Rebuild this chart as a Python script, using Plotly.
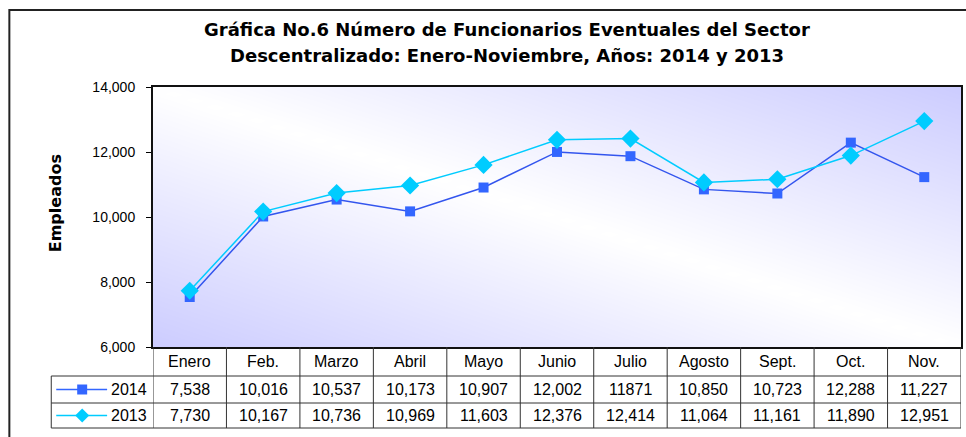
import numpy as np
import plotly.graph_objects as go

months = ["Enero", "Feb.", "Marzo", "Abril", "Mayo", "Junio", "Julio", "Agosto", "Sept.", "Oct.", "Nov."]
vals_2014 = [7538, 10016, 10537, 10173, 10907, 12002, 11871, 10850, 10723, 12288, 11227]
vals_2013 = [7730, 10167, 10736, 10969, 11603, 12376, 12414, 11064, 11161, 11890, 12951]
labels_2014 = ["7,538", "10,016", "10,537", "10,173", "10,907", "12,002", "11871", "10,850", "10,723", "12,288", "11,227"]
labels_2013 = ["7,730", "10,167", "10,736", "10,969", "11,603", "12,376", "12,414", "11,064", "11,161", "11,890", "12,951"]
series_names = ["2014", "2013"]
y_ticks = [6000, 8000, 10000, 12000, 14000]
title_lines = ["Gráfica No.6 Número de Funcionarios Eventuales del Sector",
               "Descentralizado: Enero-Noviembre, Años: 2014 y 2013"]
y_title = "Empleados"

W, H = 966, 437
L, R, T, B = 153, 963, 87, 347  # plot area in px
FONT = "Liberation Sans, Arial, sans-serif"
BOLD_FONT = "DejaVu Sans, Liberation Sans, sans-serif"
C2014 = "#3366ff"
C2013 = "#00ccff"


def px(xp, yp):
    return (xp - L) / (R - L), (B - yp) / (B - T)


fig = go.Figure()

# gradient background (diagonal, white band through the middle)
n = 40
gx = np.linspace(-0.5, len(months) - 0.5, n)
gy = np.linspace(y_ticks[0], y_ticks[-1], n)
u = np.linspace(0, 1, n)
U, V = np.meshgrid(u, u)
Z = np.abs(U + V - 1)
fig.add_trace(go.Heatmap(x=gx, y=gy, z=Z, zsmooth="best", showscale=False, hoverinfo="skip",
                         colorscale=[[0, "#ffffff"], [1, "#ccccff"]], zmin=0, zmax=1))

xi = list(range(len(months)))
fig.add_trace(go.Scatter(x=xi, y=vals_2014, mode="lines+markers", name=series_names[0],
                         line=dict(color="#3355ee", width=1.5),
                         marker=dict(symbol="square", size=10, color=C2014)))
fig.add_trace(go.Scatter(x=xi, y=vals_2013, mode="lines+markers", name=series_names[1],
                         line=dict(color=C2013, width=1.5),
                         marker=dict(symbol="diamond", size=14, color=C2013)))

shapes = []
ann = []

# outer frame
x0, y1 = px(9, 10)
x1, y0 = px(975, 450)
shapes.append(dict(type="rect", xref="paper", yref="paper", x0=x0, y0=y0, x1=x1, y1=y1,
                   line=dict(color="#222222", width=2), layer="below"))

# table geometry
rows_px = [B, 376, 403, 428]
legend_left = 51
ry = [px(0, r)[1] for r in rows_px]
xl = px(legend_left, 0)[0]
tl = dict(color="#333333", width=1)
for k in (1, 2, 3):
    shapes.append(dict(type="line", xref="paper", yref="paper", x0=xl, x1=1, y0=ry[k], y1=ry[k], line=tl))
for i in range(len(months) + 1):
    shapes.append(dict(type="line", xref="x", yref="paper", x0=i - 0.5, x1=i - 0.5, y0=ry[0], y1=ry[3], line=tl))
shapes.append(dict(type="line", xref="paper", yref="paper", x0=xl, x1=xl, y0=ry[1], y1=ry[3], line=tl))

cell_font = dict(family=FONT, size=16, color="black")
for i, m in enumerate(months):
    ann.append(dict(x=i, xref="x", y=(ry[0] + ry[1]) / 2, yref="paper", text=m, showarrow=False,
                    font=cell_font, xanchor="center", yanchor="middle"))
    ann.append(dict(x=i, xref="x", y=(ry[1] + ry[2]) / 2, yref="paper", text=labels_2014[i], showarrow=False,
                    font=cell_font, xanchor="center", yanchor="middle"))
    ann.append(dict(x=i, xref="x", y=(ry[2] + ry[3]) / 2, yref="paper", text=labels_2013[i], showarrow=False,
                    font=cell_font, xanchor="center", yanchor="middle"))

# legend keys inside table
for k, (name, col, sym) in enumerate([(series_names[0], C2014, "square"), (series_names[1], C2013, "diamond")]):
    yc_px = (rows_px[k + 1] + rows_px[k + 2]) / 2
    a0, yc = px(56, yc_px)
    a1, _ = px(107, yc_px)
    shapes.append(dict(type="line", xref="paper", yref="paper", x0=a0, x1=a1, y0=yc, y1=yc,
                       line=dict(color=col, width=1.5)))
    if sym == "square":
        sx0, sy0 = px(77, yc_px + 5)
        sx1, sy1 = px(87, yc_px - 5)
        shapes.append(dict(type="rect", xref="paper", yref="paper", x0=sx0, x1=sx1, y0=sy0, y1=sy1,
                           fillcolor=col, line=dict(width=0)))
    else:
        pts = [px(82, yc_px - 7), px(89, yc_px), px(82, yc_px + 7), px(75, yc_px)]
        path = "M " + " L ".join(f"{p[0]},{p[1]}" for p in pts) + " Z"
        shapes.append(dict(type="path", xref="paper", yref="paper", path=path, fillcolor=col, line=dict(width=0)))
    tx, _ = px(109, yc_px)
    ann.append(dict(x=tx, xref="paper", y=yc, yref="paper", text=name, showarrow=False,
                    font=cell_font, xanchor="left", yanchor="middle"))

# title
for j, line in enumerate(title_lines):
    tx, ty = px(508, 30 + 25 * j)
    ann.append(dict(x=tx, xref="paper", y=ty, yref="paper", text=f"<b>{line}</b>", showarrow=False,
                    font=dict(family=BOLD_FONT, size=18, color="black"), xanchor="center", yanchor="middle"))

# y-axis title
tx, ty = px(55, 203)
ann.append(dict(x=tx, xref="paper", y=ty, yref="paper", text=f"<b>{y_title}</b>", showarrow=False, textangle=-90,
                font=dict(family=BOLD_FONT, size=16, color="black"), xanchor="center", yanchor="middle"))

fig.update_layout(
    width=W, height=H,
    margin=dict(l=L, r=W - R, t=T, b=H - B),
    paper_bgcolor="white", plot_bgcolor="white",
    showlegend=False,
    shapes=shapes, annotations=ann,
    xaxis=dict(range=[-0.5, len(months) - 0.5], showticklabels=False, ticks="", showgrid=False, zeroline=False,
               showline=True, mirror=True, linecolor="#111111", linewidth=2, fixedrange=True),
    yaxis=dict(range=[y_ticks[0], y_ticks[-1]], tickvals=y_ticks, tickformat=",d", ticks="outside", ticklen=5,
               tickcolor="black", showgrid=False, zeroline=False, showline=True, mirror=True,
               linecolor="#111111", linewidth=2, ticklabelstandoff=8,
               tickfont=dict(family=FONT, size=14, color="black"), fixedrange=True),
)

fig.write_html("out.html", config={"displayModeBar": False},
               post_script="document.body.style.margin='0';document.body.style.overflow='hidden';")
